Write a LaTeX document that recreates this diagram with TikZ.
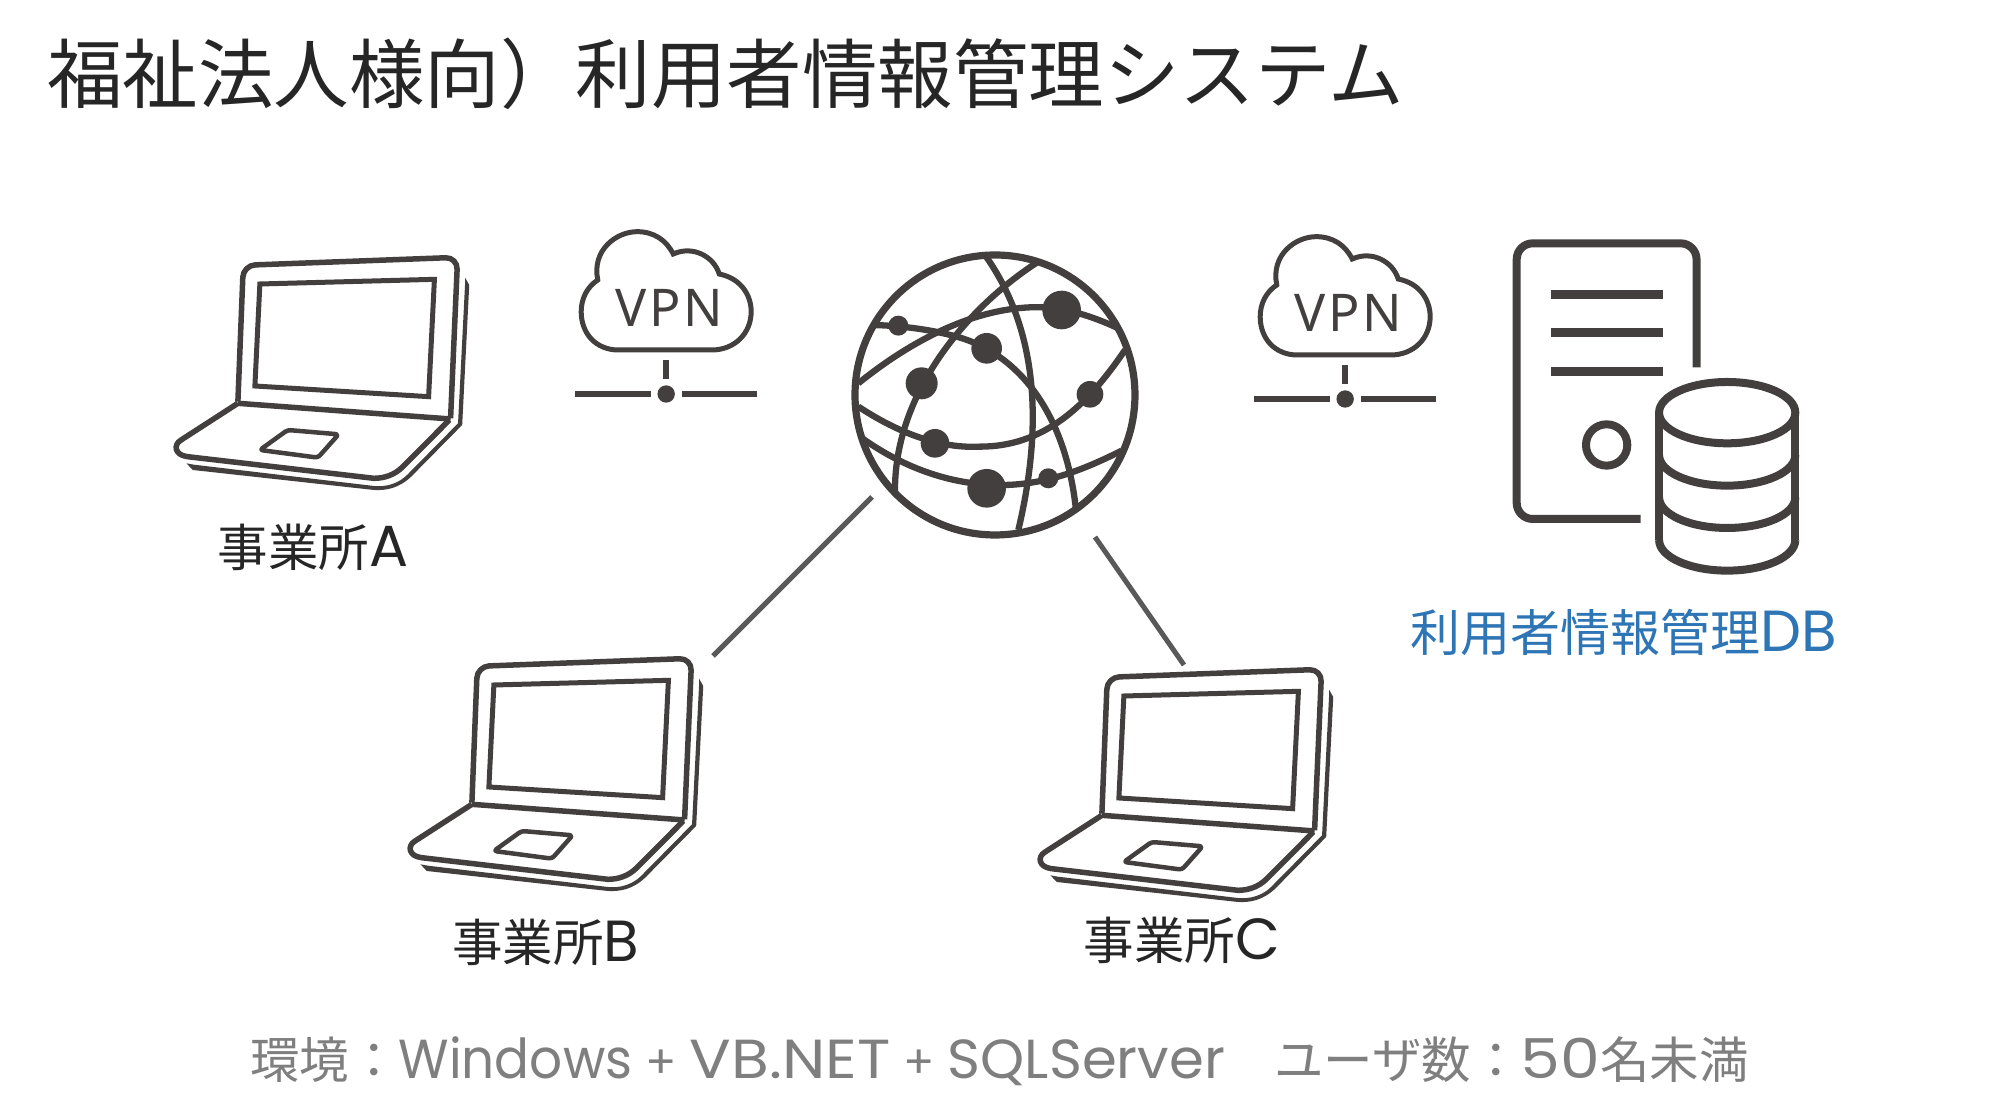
\documentclass[tikz,border=0pt]{standalone}
\usepackage{fontspec}
\newfontfamily\cjk{Noto Sans CJK JP}
\newfontfamily\lat{Poppins}
\newfontfamily\vpnf[LetterSpace=5]{Noto Sans}
\definecolor{icon}{HTML}{443F3F}
\definecolor{txt}{HTML}{262626}
\definecolor{linkc}{HTML}{595959}
\definecolor{dbblue}{HTML}{2E75B6}
\definecolor{grayt}{HTML}{7F7F7F}
\newcommand{\latbig}{\lat\fontsize{55}{55}\selectfont}
\newcommand{\latlab}{\lat\fontsize{58}{58}\selectfont}
\newcommand{\plusmark}{\hspace{13pt}{\lat\fontsize{46}{46}\selectfont +}\hspace{13pt}}
\tikzset{
  ic/.style={draw=icon,line width=#1,line join=round,fill=none},
  lab/.style={text=txt,inner sep=0pt,font=\cjk\fontsize{50.5}{51}\selectfont},
  link/.style={draw=linkc,line width=5pt},
}
\newcommand{\laptopicon}[2]{%
\begin{scope}[shift={(#1,#2)},x=0.4146pt,y=-0.3333pt]
 \draw[ic=5.5pt,rounded corners=12pt] (212,515) -- (225,106) -- (742,82) -- (725,565);
 \draw[ic=5pt,line join=miter] (265,162) -- (686,148) -- (672,500) -- (253,468) -- cycle;
 \draw[ic=5.5pt] (212,520) -- (725,567);
 \draw[ic=5.5pt] (722,570) -- (610,710) .. controls (590,735) and (565,745) .. (540,745) -- (90,680) .. controls (60,675) and (55,645) .. (75,630) -- (212,520);
 \draw[ic=4.5pt,rounded corners=3pt] (332,600) -- (455,613) -- (405,683) -- (265,660) -- cycle;
 \fill[icon] (760,143) -- (770,165) -- (753,585) -- (630,740) .. controls (600,775) and (570,782) .. (540,780) -- (103,720) -- (88,700) -- (105,704) -- (540,768) .. controls (570,772) and (600,760) .. (620,735) -- (743,580) -- (760,160) -- cycle;
\end{scope}}
\newcommand{\vpnicon}[3]{%
\begin{scope}[shift={(#1,#2)},x=0.4146pt,y=-0.3333pt]
 \draw[ic=5pt,line join=miter] (1080,150) .. controls (1065,60) and (1125,5) .. (1175,5) .. controls (1215,5) and (1245,30) .. (1262,72) .. controls (1310,45) and (1360,80) .. (1373,132) .. controls (1425,145) and (1450,195) .. (1450,245) .. controls (1450,310) and (1410,360) .. (1355,360) -- (1130,360) .. controls (1075,360) and (1040,310) .. (1040,245) .. controls (1040,205) and (1055,170) .. (1080,150) -- cycle;
 \node[inner sep=0pt,text=icon,font=\vpnf\fontsize{52}{52}\selectfont] (#3) at (1252,234) {VPN};
 \draw[draw=icon,line width=5.5pt] (1025,492) -- (1208,492) (1282,492) -- (1463,492) (1245,390) -- (1245,447);
 \fill[icon] (1245,492) ellipse [x radius=21,y radius=26];
\end{scope}}
\begin{document}
\begin{tikzpicture}[x=1pt,y=-1pt]
\useasboundingbox (0,0) rectangle (2003,1115);
\fill[white] (0,0) rectangle (2003,1115);
% title
\node[anchor=west,inner sep=0pt,text=txt,font=\cjk\fontsize{75.5}{76}\selectfont] (title) at (47,74) {福祉法人様向）利用者情報管理システム};
% laptops
\laptopicon{150}{230}
\laptopicon{384}{631}
\laptopicon{1014}{642}
\node[lab,anchor=center] (labA) at (313,547) {事業所{\latlab A}};
\node[lab,anchor=center] (labB) at (546,942) {事業所{\latlab B}};
\node[lab,anchor=center] (labC) at (1182,940) {事業所{\latlab C}};
% vpn
\vpnicon{150}{230}{vpnA}
\vpnicon{829}{235}{vpnB}
% globe
\begin{scope}[shift={(830,230)},x=0.3333pt,y=-0.3333pt]
 \draw[ic=7.2pt] (495,495) circle [radius=420];
 \begin{scope}
 \clip (495,495) circle [radius=420];
 \begin{scope}[draw=icon,line width=6.3pt]
 \draw (465,75) .. controls (575,230) and (665,480) .. (565,900);
 \draw (625,95) .. controls (400,240) and (190,500) .. (195,790);
 \draw (130,285) .. controls (200,287) and (290,295) .. (380,320) .. controls (580,375) and (710,570) .. (738,840);
 \draw (85,460) .. controls (240,335) and (420,240) .. (600,232) .. controls (700,228) and (790,260) .. (865,295);
 \draw (85,530) .. controls (230,625) and (350,655) .. (450,650) .. controls (640,650) and (770,530) .. (885,360);
 \draw (90,620) .. controls (200,700) and (340,762) .. (500,765) .. controls (640,768) and (760,720) .. (875,662);
 \end{scope}
 \end{scope}
 \foreach \px/\py/\r in {205/287/30,695/240/58,470/355/46,275/460/48,780/493/40,315/640/43,470/775/58,655/745/30}
   \fill[icon] (\px,\py) circle [radius=\r];
\end{scope}
% server + db
\begin{scope}[shift={(1240,220)},x=0.3827pt,y=-0.3333pt]
 \draw[ic=8pt,rounded corners=16pt,line join=miter] (1193,442) -- (1193,70) -- (723,70) -- (723,897) -- (1047,897);
 \draw[draw=icon,line width=9pt] (812,223) -- (1105,223) (812,339) -- (1105,339) (812,455) -- (1105,455);
 \draw[ic=8pt] (958,675) ellipse [x radius=54,y radius=62];
 \draw[ic=8pt] (1273,578) ellipse [x radius=178,y radius=92];
 \draw[ic=8pt] (1095,578) -- (1095,960) (1451,578) -- (1451,960);
 \foreach \yy in {705,832,960}
   \draw[ic=8pt] (1095,\yy) .. controls (1095,\yy+51) and (1175,\yy+92) .. (1273,\yy+92) .. controls (1371,\yy+92) and (1451,\yy+51) .. (1451,\yy);
\end{scope}
\node[inner sep=0pt,text=dbblue,anchor=west,font=\cjk\fontsize{50}{50}\selectfont] (dbl) at (1410,632) {利用者情報管理{\latlab DB}};
% links
\coordinate (gB) at (872,497);
\coordinate (lB) at (713,656);
\coordinate (gC) at (1095,537);
\coordinate (lC) at (1184,665);
\draw[link] (gB) -- (lB);
\draw[link] (gC) -- (lC);
% footer
\node[inner sep=0pt,text=grayt,anchor=west,font=\cjk\fontsize{49.5}{50}\selectfont] (foot) at (250,1061) {環境：\scalebox{.94}[1]{\latbig Windows}\plusmark\scalebox{1.12}[1]{\latbig VB.NET}\plusmark\scalebox{1.02}[1]{\latbig SQLServer}　ユーザ数：\scalebox{1.15}[1]{\latbig 50}名未満};
\end{tikzpicture}
\end{document}
